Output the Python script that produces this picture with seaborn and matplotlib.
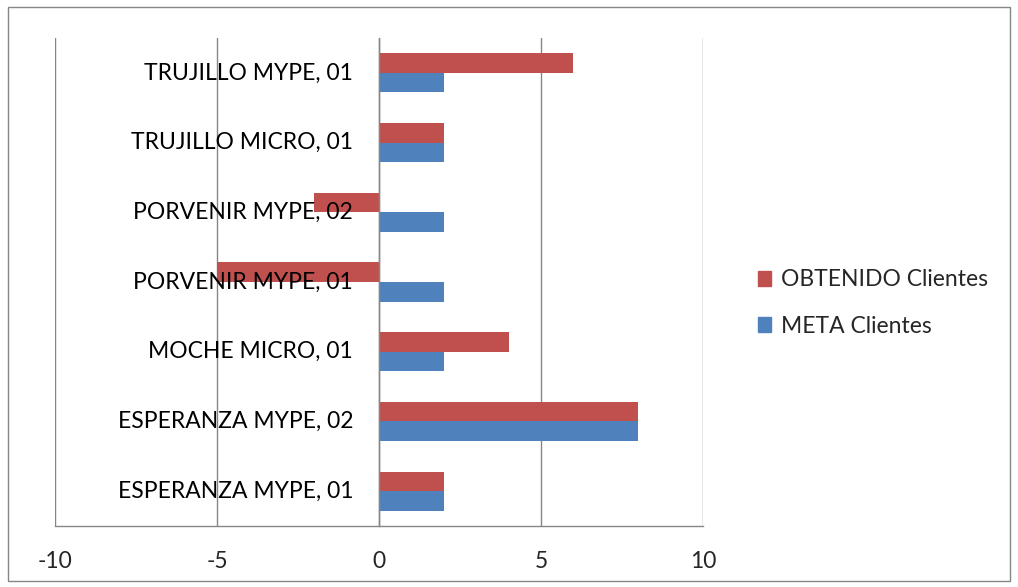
import matplotlib
matplotlib.use("Agg")
import matplotlib.pyplot as plt
import seaborn as sns
import pandas as pd
from matplotlib.patches import Rectangle

# Data (top to bottom)
categories = [
    "TRUJILLO MYPE, 01",
    "TRUJILLO MICRO, 01",
    "PORVENIR MYPE, 02",
    "PORVENIR MYPE, 01",
    "MOCHE MICRO, 01",
    "ESPERANZA MYPE, 02",
    "ESPERANZA MYPE, 01",
]
obtenido = [6, 2, -2, -5, 4, 8, 2]
meta = [2, 2, 2, 2, 2, 8, 2]
series_names = ["OBTENIDO Clientes", "META Clientes"]
x_ticks = [-10, -5, 0, 5, 10]

sns.set_theme(style="white")
plt.rcParams["font.family"] = ["Lato", "DejaVu Sans"]

df = pd.DataFrame({
    "cat": categories * 2,
    "serie": [series_names[0]] * len(categories) + [series_names[1]] * len(categories),
    "val": obtenido + meta,
})

fig = plt.figure(figsize=(10.18, 5.87), dpi=100)
ax = fig.add_axes([55 / 1018, 61 / 587, 648 / 1018, 488 / 587])

palette = {series_names[0]: "#C0504D", series_names[1]: "#4F81BD"}
sns.barplot(data=df, y="cat", x="val", hue="serie", hue_order=series_names,
            order=categories, palette=palette, orient="h", width=0.56,
            saturation=1, ax=ax, legend=False, errorbar=None, linewidth=0)

ax.set_xlim(-10, 10)
ax.set_ylim(len(categories) - 0.5, -0.5)
ax.set_xlabel("")
ax.set_ylabel("")

grid_color = "#868686"
for xv in x_ticks:
    ax.axvline(xv, color=grid_color, lw=1.0, zorder=0)

for s in ["top", "right"]:
    ax.spines[s].set_visible(False)
ax.spines["left"].set_position(("data", 0))
ax.spines["left"].set_color(grid_color)
ax.spines["bottom"].set_color(grid_color)
ax.spines["bottom"].set_linewidth(1.0)
ax.spines["left"].set_linewidth(1.0)

fs = 16.5
ax.set_xticks(x_ticks)
ax.set_xticklabels([str(v) for v in x_ticks], fontsize=fs)
ax.tick_params(axis="x", direction="out", length=7, width=1, color=grid_color, pad=11)

ax.set_yticks([i - 0.5 for i in range(len(categories) + 1)])
ax.set_yticklabels([])
ax.tick_params(axis="y", direction="out", length=7, width=1, color=grid_color)

for i, c in enumerate(categories):
    ax.annotate(c, xy=(0, i), xycoords="data", xytext=(-26, 0),
                textcoords="offset pixels", ha="right", va="center", fontsize=fs,
                color="black", zorder=5)

handles = [Rectangle((0, 0), 1, 1, color=palette[n]) for n in series_names]
fig.legend(handles, series_names, loc="center left", bbox_to_anchor=(737 / 1018, 1 - 303 / 587),
           frameon=False, fontsize=fs, handlelength=0.6, handleheight=0.6,
           handletextpad=0.4, labelspacing=1.1)

fig.patches.append(Rectangle((8 / 1018, 6 / 587), 1002 / 1018, 574 / 587,
                             transform=fig.transFigure, fill=False,
                             edgecolor=grid_color, lw=1.0))

fig.savefig("out.png", dpi=100, facecolor="white")
